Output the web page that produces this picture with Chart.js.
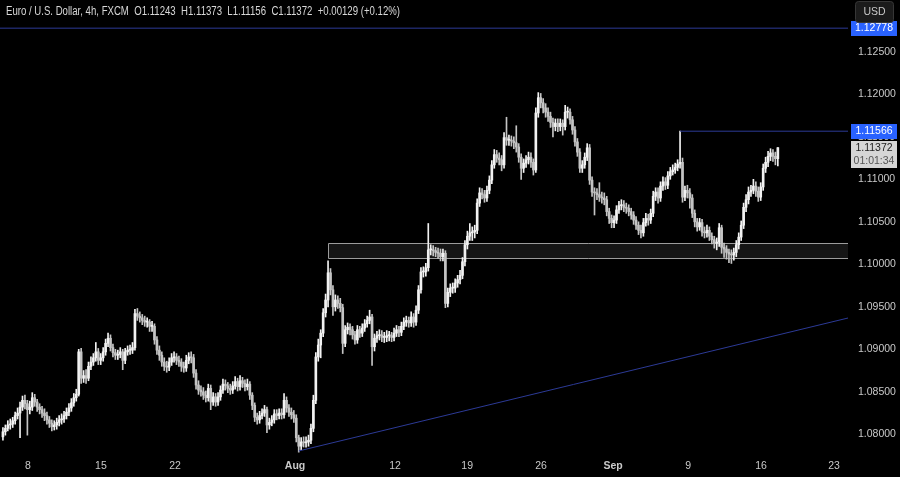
<!DOCTYPE html>
<html>
<head>
<meta charset="utf-8">
<title>EUR/USD 4h</title>
<script src="https://cdn.jsdelivr.net/npm/chart.js@4.4.1/dist/chart.umd.min.js"></script>
<style>
    html, body { margin: 0; padding: 0; background: #000; }
    #chart { display: block; }
</style>
</head>
<body>
<canvas id="chart" width="900" height="477"></canvas>
<script>
// Candles (4h, one per index). Open of each candle = previous close.
const firstOpen = 1.0797;

const closes = [
    1.0803, 1.0807, 1.0811, 1.0812, 1.0816, 1.0822, 1.0825, 1.0832, 1.0840, 1.0836,
    1.0829, 1.0832, 1.0843, 1.0838, 1.0832, 1.0829, 1.0825, 1.0822, 1.0817, 1.0813,
    1.0809, 1.0811, 1.0814, 1.0817, 1.0818, 1.0822, 1.0826, 1.0831, 1.0837, 1.0843,
    1.0847, 1.0897, 1.0866, 1.0869, 1.0866, 1.0880, 1.0885, 1.0890, 1.0897, 1.0887,
    1.0890, 1.0897, 1.0907, 1.0913, 1.0902, 1.0896, 1.0893, 1.0894, 1.0897, 1.0887,
    1.0897, 1.0899, 1.0899, 1.0902, 1.0942, 1.0939, 1.0937, 1.0934, 1.0932, 1.0932,
    1.0927, 1.0927, 1.0911, 1.0899, 1.0893, 1.0885, 1.0880, 1.0879, 1.0885, 1.0890,
    1.0891, 1.0887, 1.0885, 1.0880, 1.0878, 1.0887, 1.0891, 1.0890, 1.0872, 1.0858,
    1.0852, 1.0850, 1.0846, 1.0843, 1.0854, 1.0838, 1.0844, 1.0838, 1.0844, 1.0852,
    1.0859, 1.0857, 1.0854, 1.0852, 1.0857, 1.0862, 1.0856, 1.0863, 1.0860, 1.0856,
    1.0859, 1.0846, 1.0834, 1.0820, 1.0817, 1.0822, 1.0825, 1.0829, 1.0811, 1.0814,
    1.0817, 1.0824, 1.0822, 1.0825, 1.0823, 1.0840, 1.0831, 1.0826, 1.0823, 1.0819,
    1.0796, 1.0786, 1.0791, 1.0790, 1.0791, 1.0793, 1.0807, 1.0840, 1.0891, 1.0905,
    1.0919, 1.0943, 1.0958, 1.0990, 1.0970, 1.0950, 1.0958, 1.0954, 1.0949, 1.0907,
    1.0923, 1.0926, 1.0923, 1.0917, 1.0911, 1.0923, 1.0919, 1.0925, 1.0930, 1.0934,
    1.0938, 1.0903, 1.0913, 1.0916, 1.0917, 1.0914, 1.0914, 1.0916, 1.0916, 1.0914,
    1.0919, 1.0923, 1.0920, 1.0927, 1.0932, 1.0934, 1.0931, 1.0938, 1.0932, 1.0946,
    1.0970, 1.0991, 1.0991, 1.0996, 1.1017, 1.1017, 1.1016, 1.1014, 1.1013, 1.1009,
    1.1013, 1.0954, 1.0967, 1.0972, 1.0972, 1.0978, 1.0982, 1.0987, 1.1003, 1.1023,
    1.1033, 1.1037, 1.1038, 1.1040, 1.1072, 1.1084, 1.1082, 1.1078, 1.1087, 1.1099,
    1.1117, 1.1129, 1.1125, 1.1123, 1.1117, 1.1149, 1.1146, 1.1146, 1.1145, 1.1143,
    1.1138, 1.1126, 1.1113, 1.1119, 1.1123, 1.1126, 1.1120, 1.1111, 1.1178, 1.1196,
    1.1190, 1.1184, 1.1179, 1.1174, 1.1167, 1.1162, 1.1166, 1.1162, 1.1166, 1.1162,
    1.1179, 1.1179, 1.1170, 1.1158, 1.1144, 1.1132, 1.1113, 1.1117, 1.1126, 1.1137,
    1.1099, 1.1085, 1.1084, 1.1082, 1.1079, 1.1078, 1.1076, 1.1062, 1.1054, 1.1049,
    1.1052, 1.1064, 1.1069, 1.1070, 1.1067, 1.1066, 1.1062, 1.1058, 1.1052, 1.1046,
    1.1040, 1.1037, 1.1049, 1.1054, 1.1052, 1.1060, 1.1080, 1.1085, 1.1078, 1.1092,
    1.1097, 1.1093, 1.1104, 1.1109, 1.1111, 1.1114, 1.1118, 1.1120, 1.1079, 1.1087,
    1.1084, 1.1078, 1.1060, 1.1050, 1.1044, 1.1049, 1.1038, 1.1037, 1.1040, 1.1033,
    1.1029, 1.1025, 1.1026, 1.1043, 1.1020, 1.1018, 1.1014, 1.1012, 1.1011, 1.1014,
    1.1023, 1.1032, 1.1046, 1.1067, 1.1076, 1.1085, 1.1087, 1.1092, 1.1086, 1.1079,
    1.1091, 1.1113, 1.1120, 1.1127, 1.1131, 1.1127, 1.11243, 1.11372
];

const highs = [
    1.0808, 1.0811, 1.0816, 1.0818, 1.0820, 1.0826, 1.0831, 1.0838, 1.0845, 1.0846,
    1.0840, 1.0839, 1.0849, 1.0847, 1.0841, 1.0836, 1.0833, 1.0830, 1.0826, 1.0821,
    1.0817, 1.0816, 1.0819, 1.0822, 1.0824, 1.0827, 1.0831, 1.0836, 1.0842, 1.0848,
    1.0853, 1.0900, 1.0901, 1.0875, 1.0876, 1.0885, 1.0891, 1.0895, 1.0908, 1.0901,
    1.0895, 1.0902, 1.0912, 1.0919, 1.0917, 1.0906, 1.0900, 1.0899, 1.0902, 1.0900,
    1.0901, 1.0904, 1.0905, 1.0908, 1.0947, 1.0948, 1.0944, 1.0941, 1.0939, 1.0937,
    1.0935, 1.0933, 1.0930, 1.0915, 1.0904, 1.0897, 1.0890, 1.0886, 1.0890, 1.0895,
    1.0897, 1.0895, 1.0892, 1.0889, 1.0885, 1.0893, 1.0896, 1.0897, 1.0894, 1.0876,
    1.0863, 1.0857, 1.0855, 1.0851, 1.0859, 1.0858, 1.0849, 1.0848, 1.0849, 1.0857,
    1.0865, 1.0864, 1.0861, 1.0859, 1.0862, 1.0868, 1.0866, 1.0869, 1.0867, 1.0864,
    1.0865, 1.0862, 1.0849, 1.0837, 1.0825, 1.0827, 1.0830, 1.0834, 1.0832, 1.0819,
    1.0822, 1.0829, 1.0829, 1.0830, 1.0830, 1.0848, 1.0844, 1.0835, 1.0831, 1.0828,
    1.0823, 1.0799, 1.0796, 1.0797, 1.0797, 1.0799, 1.0812, 1.0846, 1.0896, 1.0912,
    1.0923, 1.0948, 1.0965, 1.1004, 1.0995, 1.0975, 1.0964, 1.0963, 1.0960, 1.0953,
    1.0928, 1.0931, 1.0930, 1.0927, 1.0921, 1.0928, 1.0927, 1.0930, 1.0935, 1.0939,
    1.0946, 1.0941, 1.0918, 1.0921, 1.0923, 1.0922, 1.0920, 1.0922, 1.0921, 1.0920,
    1.0925, 1.0928, 1.0927, 1.0932, 1.0937, 1.0939, 1.0938, 1.0944, 1.0942, 1.0951,
    1.0975, 1.0996, 1.0997, 1.1001, 1.1048, 1.1023, 1.1022, 1.1020, 1.1019, 1.1018,
    1.1018, 1.1016, 1.0972, 1.0977, 1.0978, 1.0983, 1.0987, 1.0993, 1.1008, 1.1028,
    1.1039, 1.1048, 1.1044, 1.1046, 1.1077, 1.1090, 1.1089, 1.1087, 1.1092, 1.1104,
    1.1122, 1.1135, 1.1134, 1.1131, 1.1128, 1.1155, 1.1173, 1.1152, 1.1151, 1.1150,
    1.1163, 1.1142, 1.1130, 1.1124, 1.1128, 1.1132, 1.1131, 1.1124, 1.1184, 1.1202,
    1.1201, 1.1195, 1.1189, 1.1184, 1.1179, 1.1172, 1.1171, 1.1171, 1.1171, 1.1170,
    1.1187, 1.1185, 1.1183, 1.1174, 1.1162, 1.1148, 1.1136, 1.1122, 1.1131, 1.1142,
    1.1141, 1.1103, 1.1090, 1.1089, 1.1096, 1.1085, 1.1084, 1.1080, 1.1066, 1.1058,
    1.1057, 1.1069, 1.1074, 1.1076, 1.1075, 1.1072, 1.1070, 1.1066, 1.1062, 1.1056,
    1.1050, 1.1046, 1.1054, 1.1060, 1.1059, 1.1065, 1.1086, 1.1090, 1.1090, 1.1097,
    1.1103, 1.1102, 1.1109, 1.1114, 1.1117, 1.1119, 1.1123, 1.11566, 1.1125, 1.1092,
    1.1093, 1.1089, 1.1082, 1.1064, 1.1054, 1.1054, 1.1053, 1.1044, 1.1046, 1.1044,
    1.1037, 1.1033, 1.1031, 1.1048, 1.1046, 1.1025, 1.1022, 1.1018, 1.1017, 1.1019,
    1.1028, 1.1037, 1.1051, 1.1072, 1.1082, 1.1091, 1.1093, 1.1100, 1.1097, 1.1091,
    1.1096, 1.1118, 1.1126, 1.1133, 1.1136, 1.1135, 1.1132, 1.11373
];

const lows = [
    1.0793, 1.0799, 1.0804, 1.0806, 1.0808, 1.0812, 1.0818, 1.0796, 1.0828, 1.0830,
    1.0799, 1.0824, 1.0828, 1.0833, 1.0827, 1.0824, 1.0820, 1.0816, 1.0812, 1.0808,
    1.0804, 1.0805, 1.0806, 1.0810, 1.0812, 1.0814, 1.0818, 1.0822, 1.0827, 1.0833,
    1.0839, 1.0845, 1.0860, 1.0861, 1.0860, 1.0863, 1.0876, 1.0881, 1.0886, 1.0882,
    1.0882, 1.0886, 1.0893, 1.0903, 1.0898, 1.0891, 1.0888, 1.0888, 1.0890, 1.0876,
    1.0883, 1.0893, 1.0894, 1.0895, 1.0899, 1.0934, 1.0932, 1.0929, 1.0927, 1.0926,
    1.0921, 1.0921, 1.0906, 1.0894, 1.0887, 1.0880, 1.0875, 1.0873, 1.0875, 1.0881,
    1.0885, 1.0882, 1.0880, 1.0874, 1.0873, 1.0874, 1.0883, 1.0884, 1.0867, 1.0853,
    1.0847, 1.0845, 1.0841, 1.0838, 1.0839, 1.0829, 1.0834, 1.0833, 1.0834, 1.0840,
    1.0848, 1.0852, 1.0849, 1.0847, 1.0848, 1.0853, 1.0851, 1.0852, 1.0855, 1.0851,
    1.0852, 1.0841, 1.0829, 1.0815, 1.0812, 1.0813, 1.0818, 1.0821, 1.0802, 1.0806,
    1.0810, 1.0813, 1.0817, 1.0818, 1.0818, 1.0819, 1.0826, 1.0821, 1.0818, 1.0814,
    1.0791, 1.0779, 1.0782, 1.0785, 1.0785, 1.0786, 1.0789, 1.0803, 1.0836, 1.0886,
    1.0890, 1.0915, 1.0938, 1.0950, 1.0964, 1.0940, 1.0945, 1.0948, 1.0944, 1.0895,
    1.0903, 1.0918, 1.0917, 1.0912, 1.0906, 1.0907, 1.0914, 1.0915, 1.0921, 1.0926,
    1.0930, 1.0881, 1.0898, 1.0908, 1.0911, 1.0909, 1.0908, 1.0909, 1.0910, 1.0909,
    1.0910, 1.0915, 1.0915, 1.0916, 1.0923, 1.0927, 1.0926, 1.0927, 1.0926, 1.0928,
    1.0942, 1.0966, 1.0985, 1.0986, 1.0992, 1.1011, 1.1010, 1.1009, 1.1007, 1.1004,
    1.1004, 1.0949, 1.0950, 1.0962, 1.0966, 1.0967, 1.0973, 1.0977, 1.0983, 1.0998,
    1.1018, 1.1028, 1.1028, 1.1031, 1.1036, 1.1068, 1.1077, 1.1073, 1.1074, 1.1083,
    1.1095, 1.1113, 1.1120, 1.1117, 1.1110, 1.1113, 1.1140, 1.1140, 1.1139, 1.1136,
    1.1132, 1.1120, 1.1100, 1.1108, 1.1114, 1.1118, 1.1114, 1.1105, 1.1108, 1.1173,
    1.1184, 1.1178, 1.1173, 1.1168, 1.1161, 1.1150, 1.1157, 1.1156, 1.1157, 1.1152,
    1.1158, 1.1172, 1.1165, 1.1153, 1.1139, 1.1127, 1.1108, 1.1108, 1.1113, 1.1122,
    1.1094, 1.1080, 1.1058, 1.1076, 1.1074, 1.1072, 1.1070, 1.1057, 1.1048, 1.1043,
    1.1043, 1.1048, 1.1060, 1.1064, 1.1062, 1.1060, 1.1057, 1.1053, 1.1047, 1.1041,
    1.1035, 1.1031, 1.1033, 1.1045, 1.1046, 1.1048, 1.1056, 1.1075, 1.1072, 1.1074,
    1.1087, 1.1088, 1.1089, 1.1100, 1.1105, 1.1107, 1.1110, 1.1113, 1.1073, 1.1075,
    1.1078, 1.1066, 1.1055, 1.1044, 1.1039, 1.1040, 1.1033, 1.1031, 1.1032, 1.1028,
    1.1024, 1.1019, 1.1017, 1.1021, 1.1013, 1.1008, 1.1006, 1.1002, 1.1001, 1.1005,
    1.1009, 1.1018, 1.1028, 1.1042, 1.1062, 1.1071, 1.1080, 1.1083, 1.1080, 1.1074,
    1.1075, 1.1087, 1.1108, 1.1115, 1.1122, 1.1121, 1.1117, 1.11156
];

const opens = [firstOpen].concat(closes.slice(0, -1));

// Axis ticks
const dateTickPos = [10.2, 40.1, 70.4, 119.5, 160.4, 189.9, 220.1, 249.6, 280.3, 310.1, 340];
const dateTickLabels = ['8', '15', '22', 'Aug', '12', '19', '26', 'Sep', '9', '16', '23'];
const priceTicks = [1.08, 1.085, 1.09, 1.095, 1.10, 1.105, 1.11, 1.115, 1.12, 1.125];

// Visible range (candle index / price)
const viewStart = -1.2;
const viewEnd = 345.7;
const priceMin = 1.077565;
const priceMax = 1.131094;

// Drawings
const keyLevel = 1.12778;
const swingHighIndex = 277;
const swingHigh = 1.11566;
const zoneStart = 133;
const zoneTop = 1.10247;
const zoneBottom = 1.10071;
const trendFrom = [121, 1.07804];
const trendTo = [345.7, 1.09368];

const symbolName = 'Euro / U.S. Dollar, 4h, FXCM';
const countdown = '01:01:34';

const FONT = '"Liberation Sans", Arial, sans-serif';
const TEXT = '#c9c9c9';
const LINE_BLUE = '#2c3a96';
const UP = '#f2f2f2';
const DOWN = '#c4c4c4';

function candleColor(ctx) {
    const i = ctx.dataIndex;
    return closes[i] >= opens[i] ? UP : DOWN;
}

function priceTag(ctx, left, yMid, text, bg, fg) {
    ctx.fillStyle = bg;
    ctx.fillRect(left, Math.round(yMid) - 7, 46, 15);
    ctx.fillStyle = fg;
    ctx.textAlign = 'center';
    ctx.textBaseline = 'middle';
    ctx.fillText(text, left + 23, Math.round(yMid) + 0.5);
}

const overlayPlugin = {
    id: 'overlay',
    beforeDraw(chart) {
        const ctx = chart.ctx;
        ctx.save();
        ctx.fillStyle = '#000';
        ctx.fillRect(0, 0, chart.width, chart.height);
        ctx.restore();
    },
    beforeDatasetsDraw(chart) {
        // support / resistance zone
        const { ctx, chartArea, scales: { x, y } } = chart;
        const left = Math.round(x.getPixelForValue(zoneStart)) + 0.5;
        const top = Math.round(y.getPixelForValue(zoneTop)) + 0.5;
        const bottom = Math.round(y.getPixelForValue(zoneBottom)) + 0.5;
        const right = chartArea.right;
        ctx.save();
        ctx.fillStyle = '#151515';
        ctx.fillRect(left, top, right - left, bottom - top);
        ctx.strokeStyle = '#9c9c9c';
        ctx.lineWidth = 1;
        ctx.beginPath();
        ctx.moveTo(right, top);
        ctx.lineTo(left, top);
        ctx.lineTo(left, bottom);
        ctx.lineTo(right, bottom);
        ctx.stroke();
        ctx.restore();
    },
    afterDraw(chart) {
        const { ctx, chartArea, scales: { y } } = chart;
        const tagLeft = chartArea.right + 3;
        const last = closes.length - 1;
        ctx.save();
        ctx.font = '10.5px ' + FONT;

        priceTag(ctx, tagLeft, y.getPixelForValue(keyLevel), keyLevel.toFixed(5), '#2962ff', '#ffffff');
        priceTag(ctx, tagLeft, y.getPixelForValue(swingHigh), swingHigh.toFixed(5), '#2962ff', '#ffffff');

        // last price + countdown
        const yLast = Math.round(y.getPixelForValue(closes[last]));
        ctx.fillStyle = '#d6d6d6';
        ctx.fillRect(tagLeft, yLast - 7, 46, 27);
        ctx.fillStyle = '#1e1e1e';
        ctx.textAlign = 'center';
        ctx.textBaseline = 'middle';
        ctx.fillText(closes[last].toFixed(5), tagLeft + 23, yLast + 0.5);
        ctx.fillStyle = '#555555';
        ctx.fillText(countdown, tagLeft + 23, yLast + 13.5);

        // currency button (sits over the top tag, as in TradingView)
        ctx.fillStyle = '#1b1b1b';
        ctx.strokeStyle = '#363636';
        ctx.beginPath();
        if (ctx.roundRect) {
            ctx.roundRect(855.5, 1.5, 38, 21, 3);
        } else {
            ctx.rect(855.5, 1.5, 38, 21);
        }
        ctx.fill();
        ctx.stroke();
        ctx.fillStyle = TEXT;
        ctx.fillText('USD', 874.5, 12);

        // header
        const o = opens[last], h = highs[last], l = lows[last], c = closes[last];
        const chg = c - o;
        const pct = chg / o * 100;
        const header = symbolName + '  O' + o.toFixed(5) + '  H' + h.toFixed(5) +
            '  L' + l.toFixed(5) + '  C' + c.toFixed(5) + '  +' + chg.toFixed(5) +
            ' (+' + pct.toFixed(2) + '%)';
        ctx.font = '12px ' + FONT;
        ctx.fillStyle = '#d8d8d8';
        ctx.textAlign = 'left';
        ctx.fillText(header, 6, 12, 394);
        ctx.restore();
    }
};

const bodies = closes.map((c, i) => ({ x: i, y: [opens[i], c] }));
const wicks = closes.map((c, i) => ({ x: i, y: [lows[i], highs[i]] }));

function hLine(from, to, price) {
    return [{ x: from, y: price }, { x: to, y: price }];
}

new Chart(document.getElementById('chart').getContext('2d'), {
    type: 'bar',
    data: {
        datasets: [{
            type: 'line',
            data: hLine(viewStart, viewEnd, keyLevel),
            borderColor: LINE_BLUE,
            borderWidth: 1,
            pointRadius: 0
        }, {
            type: 'line',
            data: hLine(swingHighIndex, viewEnd, swingHigh),
            borderColor: LINE_BLUE,
            borderWidth: 1,
            pointRadius: 0
        }, {
            type: 'line',
            data: [{ x: trendFrom[0], y: trendFrom[1] }, { x: trendTo[0], y: trendTo[1] }],
            borderColor: LINE_BLUE,
            borderWidth: 1,
            pointRadius: 0
        }, {
            label: 'body',
            data: bodies,
            backgroundColor: candleColor,
            borderWidth: 0,
            barThickness: 2,
            minBarLength: 1,
            grouped: false
        }, {
            label: 'wick',
            data: wicks,
            backgroundColor: candleColor,
            borderWidth: 0,
            barThickness: 1,
            grouped: false
        }]
    },
    options: {
        responsive: false,
        animation: false,
        layout: { padding: 0 },
        plugins: {
            legend: { display: false },
            tooltip: { enabled: false }
        },
        scales: {
            x: {
                type: 'linear',
                min: viewStart,
                max: viewEnd,
                offset: false,
                bounds: 'data',
                grid: { display: false, drawTicks: false },
                border: { display: false },
                afterBuildTicks: s => { s.ticks = dateTickPos.map(v => ({ value: v })); },
                afterFit: s => { s.height = 22; s.paddingLeft = 0; s.paddingRight = 0; },
                ticks: {
                    autoSkip: false,
                    maxRotation: 0,
                    padding: 5,
                    color: TEXT,
                    font: ctx => ({
                        family: FONT,
                        size: 10.5,
                        weight: ctx.tick && isNaN(Number(ctx.tick.label)) ? 'bold' : 'normal'
                    }),
                    callback: (v, i) => dateTickLabels[i]
                }
            },
            y: {
                position: 'right',
                min: priceMin,
                max: priceMax,
                bounds: 'data',
                grid: { display: false, drawTicks: false },
                border: { display: false },
                afterBuildTicks: s => { s.ticks = priceTicks.map(v => ({ value: v })); },
                afterFit: s => { s.width = 52; s.paddingTop = 0; s.paddingBottom = 0; },
                ticks: {
                    padding: 10,
                    color: TEXT,
                    font: { family: FONT, size: 10.5 },
                    callback: v => v.toFixed(5)
                }
            }
        }
    },
    plugins: [overlayPlugin]
});
</script>
</body>
</html>
